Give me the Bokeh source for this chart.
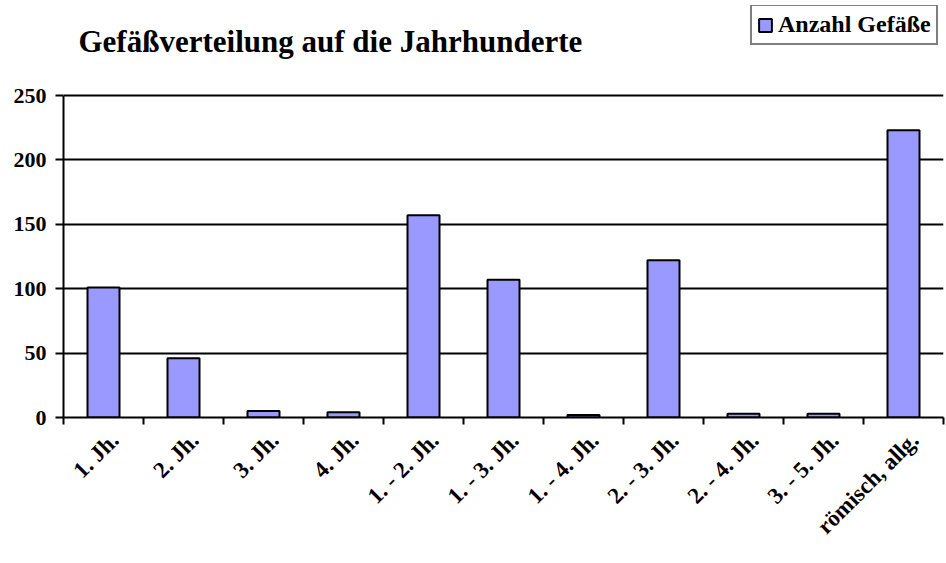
import numpy as np
from bokeh.plotting import figure
from bokeh.models import (FixedTicker, Label, Legend, LegendItem,
                          ColumnDataSource, Range1d)
from bokeh.embed import file_html
from bokeh.resources import INLINE

# ---- data ----
categories = ["1. Jh.", "2. Jh.", "3. Jh.", "4. Jh.", "1. - 2. Jh.",
              "1. - 3. Jh.", "1. - 4. Jh.", "2. - 3. Jh.", "2. - 4. Jh.",
              "3. - 5. Jh.", "römisch, allg."]
counts = [101, 46, 5, 4, 157, 107, 2, 122, 3, 3, 223]
y_ticks = [0, 50, 100, 150, 200, 250]
series_name = "Anzahl Gefäße"
title_text = "Gefäßverteilung auf die Jahrhunderte"

FONT = "Liberation Serif"
W, H = 946, 563
FRAME_TOP, VALUE_TOP, FRAME_BOTTOM = 5, 95, 417   # pixel layout
n = len(categories)
centers = [i + 0.5 for i in range(n)]
bounds = list(range(n + 1))
label_pos = [c + 0.14 for c in centers]
y_top = max(y_ticks)
# extend the range upward so that title & legend sit inside the frame
y_end = y_top * (FRAME_BOTTOM - FRAME_TOP) / (FRAME_BOTTOM - VALUE_TOP)

src = ColumnDataSource(dict(x=centers, top=counts, cat=categories))

p = figure(width=W, height=H, x_range=Range1d(0, n),
           y_range=Range1d(0, y_end),
           output_backend="svg", toolbar_location=None,
           min_border_left=63, min_border_top=FRAME_TOP,
           min_border_bottom=H - FRAME_BOTTOM, min_border_right=3)
p.outline_line_color = None
p.background_fill_color = "white"
p.border_fill_color = "white"

r = p.vbar(x="x", top="top", width=0.4, source=src,
           fill_color="#9999FF", line_color="black", line_width=2)

# x axis: labels near centres, ticks at category boundaries
xa = p.xaxis[0]
xa.ticker = FixedTicker(ticks=label_pos, minor_ticks=bounds)
xa.major_label_overrides = {c: lab for c, lab in zip(label_pos, categories)}
xa.major_tick_line_color = None
xa.major_tick_out = 7
xa.major_tick_in = 0
xa.minor_tick_line_color = "black"
xa.minor_tick_line_width = 2
xa.minor_tick_out = 7
xa.minor_tick_in = 0
xa.axis_line_color = "black"
xa.axis_line_width = 2
xa.major_label_orientation = np.pi / 4
xa.major_label_text_font = FONT
xa.major_label_text_font_style = "bold"
xa.major_label_text_font_size = "23px"
xa.major_label_text_color = "black"
xa.major_label_standoff = 12

ya = p.yaxis[0]
ya.ticker = FixedTicker(ticks=y_ticks, minor_ticks=[])
ya.bounds = (0, y_top)
ya.major_tick_out = 8
ya.major_tick_in = 0
ya.major_tick_line_width = 2
ya.major_tick_line_color = "black"
ya.axis_line_width = 2
ya.axis_line_color = "black"
ya.major_label_text_font = FONT
ya.major_label_text_font_style = "bold"
ya.major_label_text_font_size = "22px"
ya.major_label_text_color = "black"
ya.major_label_standoff = 9

p.xgrid.visible = False
p.ygrid.ticker = FixedTicker(ticks=y_ticks)
p.ygrid.grid_line_color = "black"
p.ygrid.grid_line_width = 2

legend = Legend(items=[LegendItem(label=series_name, renderers=[r])],
                location=(687, 372), orientation="vertical")
legend.label_text_font = FONT
legend.label_text_font_style = "bold"
legend.label_text_font_size = "24px"
legend.label_text_color = "black"
legend.glyph_width = 16
legend.glyph_height = 16
legend.label_standoff = 5
legend.padding = 5
legend.spacing = 0
legend.margin = 0
legend.border_line_color = "black"
legend.border_line_width = 2
legend.background_fill_color = "white"
legend.background_fill_alpha = 1
p.add_layout(legend)

title = Label(x=15, y=376, x_units="screen", y_units="screen",
              text=title_text, text_font=FONT, text_font_style="bold",
              text_font_size="31px", text_color="black",
              text_baseline="alphabetic")
p.add_layout(title)

open("out.html", "w").write(file_html(p, INLINE))
